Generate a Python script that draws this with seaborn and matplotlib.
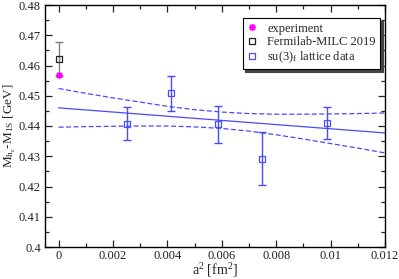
import matplotlib
matplotlib.use("Agg")
import matplotlib.pyplot as plt
import seaborn as sns
import numpy as np
import pandas as pd
from matplotlib.ticker import MultipleLocator

# ---- data ----
exp_x = [0.0]
exp_y = [0.4567]

fnal_x = [0.0]
fnal_y = [0.4622]
fnal_err = [0.0056]

lat_x = [0.0025, 0.00413, 0.00585, 0.00747, 0.00987]
lat_y = [0.4408, 0.4508, 0.4406, 0.4292, 0.4410]
lat_err = [0.0055, 0.0057, 0.0061, 0.0088, 0.0053]

fit_x = [0.0, 0.012]
fit_y = [0.4460, 0.4377]

band_x = [0.0, 0.001, 0.002, 0.003, 0.004, 0.005, 0.006, 0.007, 0.008, 0.009, 0.010, 0.011, 0.012]
band_up = [0.4524, 0.4508, 0.4493, 0.4479, 0.4465, 0.4454, 0.4446, 0.4441, 0.4439, 0.4439, 0.4440, 0.4441, 0.4443]
band_lo = [0.4396, 0.4398, 0.4399, 0.4400, 0.4400, 0.4397, 0.4392, 0.4383, 0.4371, 0.4357, 0.4342, 0.4327, 0.4311]

xticks = [0, 0.002, 0.004, 0.006, 0.008, 0.010, 0.012]
xticklabels = ["0", "0.002", "0.004", "0.006", "0.008", "0.01", "0.012"]
yticks = [0.40, 0.41, 0.42, 0.43, 0.44, 0.45, 0.46, 0.47, 0.48]
yticklabels = ["0.4", "0.41", "0.42", "0.43", "0.44", "0.45", "0.46", "0.47", "0.48"]

sns.set_style("ticks")
plt.rcParams['font.family'] = ['Liberation Serif', 'DejaVu Serif']
plt.rcParams['mathtext.fontset'] = 'custom'
plt.rcParams['mathtext.rm'] = 'Liberation Serif'
plt.rcParams['mathtext.it'] = 'Liberation Serif'

BLUE = '#4a4aff'

fig = plt.figure(figsize=(3.99, 2.79), dpi=100)
ax = fig.add_axes([45/399, 32/279, 340/399, 242/279])

# fit line and band
sns.lineplot(x=fit_x, y=fit_y, ax=ax, color=BLUE, lw=0.9)
sns.lineplot(x=band_x, y=band_up, ax=ax, color=BLUE, lw=0.9, linestyle=(0, (4, 2)))
sns.lineplot(x=band_x, y=band_lo, ax=ax, color=BLUE, lw=0.9, linestyle=(0, (4, 2)))

# error bars
ax.errorbar(fnal_x, fnal_y, yerr=fnal_err, fmt='none', ecolor='#808080', elinewidth=1.0, capsize=3, capthick=1.0, zorder=3)
ax.errorbar(lat_x, lat_y, yerr=lat_err, fmt='none', ecolor=BLUE, elinewidth=1.0, capsize=3, capthick=1.0, zorder=3)

# markers
ax.plot(exp_x, exp_y, linestyle='none', marker=(8, 2, 0), color='#ff00ff', markersize=5, mew=1.0, label='experiment', zorder=5)
ax.plot(fnal_x, fnal_y, linestyle='none', marker='s', mfc='none', mec='#202020', markersize=5, mew=0.9, label='Fermilab-MILC 2019', zorder=4)
ax.plot(lat_x, lat_y, linestyle='none', marker='s', mfc='none', mec=BLUE, markersize=5, mew=0.9, label=r'su(3)$_\mathrm{f}$ lattice data', zorder=4)

ax.set_xlim(-0.0005, 0.012)
ax.set_ylim(0.40, 0.48)
ax.set_xticks(xticks)
ax.set_xticklabels(xticklabels)
ax.set_yticks(yticks)
ax.set_yticklabels(yticklabels)
ax.xaxis.set_minor_locator(MultipleLocator(0.001))
ax.yaxis.set_minor_locator(MultipleLocator(0.005))
ax.tick_params(which='both', direction='in', top=True, right=True, labelsize=9, width=0.9, colors='#222222')
ax.tick_params(which='major', length=5)
ax.tick_params(which='minor', length=3)
ax.tick_params(axis='x', pad=2)
ax.tick_params(axis='y', pad=3)
for s in ax.spines.values():
    s.set_linewidth(1.0)
    s.set_color('black')

ax.set_xlabel(r'a$^2$ [fm$^2$]', fontsize=10)
ax.xaxis.set_label_coords(0.5, -0.06)
ax.set_ylabel(r'M$_{\mathrm{h_c}}$-M$_{\mathrm{1S}}$ [GeV]', fontsize=9.5)
ax.yaxis.set_label_coords(-0.078, 0.5)

leg = ax.legend(loc='upper right', bbox_to_anchor=(0.985, 0.945), borderaxespad=0,
                fontsize=9, frameon=True, fancybox=False, edgecolor='black', framealpha=1,
                handlelength=0.8, handletextpad=0.8, borderpad=0.35, labelspacing=0.1,
                shadow={'color': '#444444', 'alpha': 1, 'ox': 2, 'oy': -2})
leg.get_frame().set_linewidth(0.8)

fig.savefig('out.png', dpi=100)
